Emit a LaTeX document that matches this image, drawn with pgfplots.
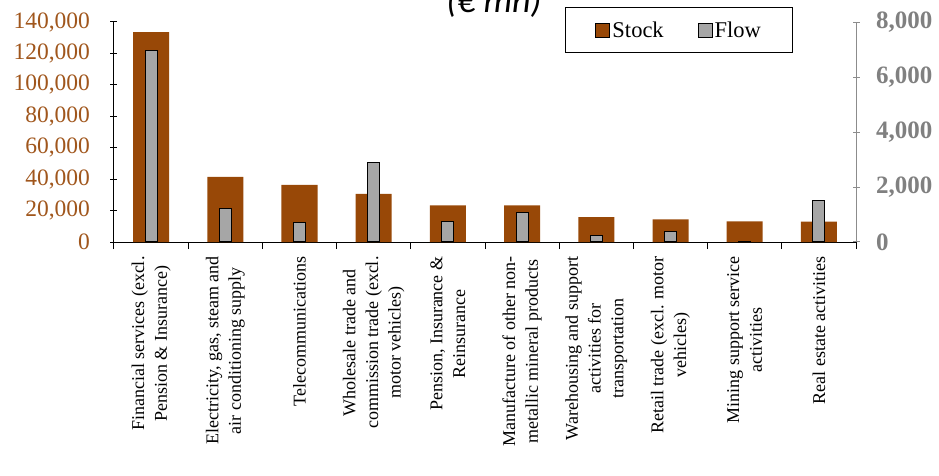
\documentclass[border=0pt]{standalone}
\usepackage{fontspec}
\setmainfont{Liberation Serif}
\newfontfamily\titlefont{Carlito}
\usepackage{pgfplots}
\pgfplotsset{compat=1.18}
\definecolor{stockbrown}{HTML}{984807}
\definecolor{ticbrown}{HTML}{A0561C}
\definecolor{flowgray}{HTML}{A6A6A6}
\definecolor{axgray}{HTML}{8C8C8C}
\definecolor{labgray}{HTML}{808080}
\pgfplotsset{
  sqlegend/.style={legend image code/.code={\draw[##1] (0bp,-7bp) rectangle (14bp,7bp);}},
  common/.style={width=742bp, height=220bp, scale only axis,
    xmin=-0.5, xmax=9.5, ymin=0,
    tick align=outside, major tick length=7bp, minor tick length=7bp,
    scaled y ticks=false},
}
\begin{document}
\begin{tikzpicture}
\begin{axis}[common, ymax=140000,
  axis x line=bottom, axis y line=left,
  axis line style={-, black, line width=1bp},
  ytick={0,20000,40000,60000,80000,100000,120000,140000},
  yticklabels={0,{20,000},{40,000},{60,000},{80,000},{100,000},{120,000},{140,000}},
  ytick style={black, line width=1bp},
  yticklabel style={font=\fontsize{23.5bp}{28bp}\selectfont, text=ticbrown, xshift=-17bp},
  xtick={0,...,9},
  xticklabels={{Financial services (excl.\\Pension \& Insurance)},
    {Electricity, gas, steam and\\air conditioning supply},
    {Telecommunications},
    {Wholesale trade and\\commission trade (excl.\\motor vehicles)},
    {Pension, Insurance \&\\Reinsurance},
    {Manufacture of other non-\\metallic mineral products},
    {Warehousing and support\\activities for\\transportation},
    {Retail trade (excl. motor\\vehicles)},
    {Mining support service\\activities},
    {Real estate activities}},
  major x tick style={draw=none},
  minor xtick={-0.5,0.5,1.5,2.5,3.5,4.5,5.5,6.5,7.5,8.5,9.5},
  minor x tick style={black, line width=1bp},
  xticklabel style={rotate=90, anchor=east, align=center, font=\fontsize{18bp}{22.7bp}\selectfont, xshift=-4bp},
  ybar, bar width=36bp,
]
\addplot[fill=stockbrown, draw=none, bar shift=0pt] coordinates {
  (0,133500) (1,41400) (2,36300) (3,30700) (4,23300)
  (5,23300) (6,15900) (7,14400) (8,13200) (9,12900)};
\end{axis}
\begin{axis}[common, ymax=8000,
  axis x line=none, axis y line=right,
  axis line style={-, axgray, line width=1bp},
  ytick={0,2000,4000,6000,8000},
  yticklabels={0,{2,000},{4,000},{6,000},{8,000}},
  ytick style={axgray, line width=1bp},
  yticklabel style={font=\bfseries\fontsize{25bp}{30bp}\selectfont, text=labgray, xshift=13bp},
  ybar, bar width=12bp,
  legend style={at={(0.6078,1.068)}, anchor=north west, draw=black, line width=1bp,
    font=\fontsize{22.5bp}{27bp}\selectfont, legend columns=2,
    inner xsep=30bp, inner ysep=12bp,
    /tikz/every even column/.append style={column sep=32bp}},
]
\addlegendimage{sqlegend, fill=stockbrown, draw=none}
\addlegendentry{Stock}
\addplot[sqlegend, fill=flowgray, draw=black, line width=1bp, bar shift=0pt] coordinates {
  (0,6980) (1,1225) (2,700) (3,2890) (4,750)
  (5,1070) (6,245) (7,400) (8,15) (9,1515)};
\addlegendentry{Flow}
\end{axis}
\node[anchor=base, font=\titlefont\itshape\fontsize{36bp}{42bp}\selectfont] at (380bp,229bp) {(€ mn)};
\pgfresetboundingbox
\useasboundingbox (-114bp,-234bp) rectangle (825bp,242bp);
\end{tikzpicture}
\end{document}
